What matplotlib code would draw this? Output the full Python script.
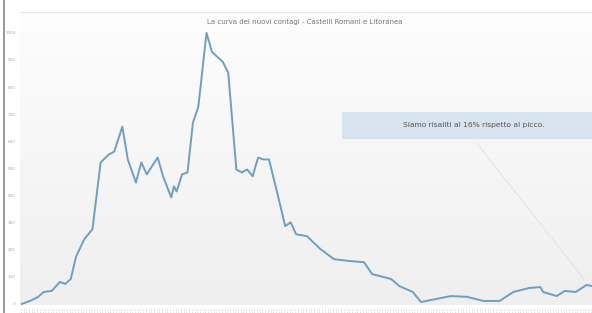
import matplotlib.pyplot as plt
import matplotlib.patches as patches
import pandas as pd
import numpy as np

# giorni dall'inizio della serie e nuovi contagi
giorni = [0, 3, 6, 8, 11, 14, 16, 18, 20, 23, 26, 29, 32, 34, 37, 39, 42, 44, 46, 50,
          52, 55, 56, 57, 59, 61, 63, 65, 68, 70, 74, 76, 79, 81, 83, 85, 87, 89, 91, 94,
          97, 99, 101, 105, 110, 115, 121, 126, 129, 136, 139, 144, 147, 151, 158, 164, 170, 176, 181, 187,
          191, 192, 197, 200, 204, 208, 210]
contagi = [0, 11, 26, 44, 48, 81, 74, 92, 176, 239, 276, 522, 551, 562, 654, 533, 448, 522, 478, 540,
           471, 393, 434, 415, 478, 485, 669, 728, 1000, 930, 893, 853, 496, 485, 496, 471, 540, 533, 533, 412,
           287, 301, 257, 250, 202, 165, 158, 154, 110, 92, 66, 44, 7, 15, 29, 26, 11, 11, 44, 59,
           62, 44, 29, 48, 44, 70, 66]

y_ticks = [0, 100, 200, 300, 400, 500, 600, 700, 800, 900, 1000]
date_labels = pd.date_range('2020-09-01', periods=211, freq='D').strftime('%d/%m')

titolo = "La curva dei nuovi contagi - Castelli Romani e Litoranea"
nota = "Siamo risaliti al 16% rispetto al picco."

fig = plt.figure(figsize=(5.92, 3.13), dpi=100)
ax = fig.add_axes([20 / 592, 8 / 313, 572 / 592, 293 / 313])

# sfondo sfumato
grad = np.linspace(0, 1, 256).reshape(-1, 1)
ax.imshow(grad, extent=[0, 1, 0, 1], transform=ax.transAxes, aspect='auto',
          cmap=plt.matplotlib.colors.LinearSegmentedColormap.from_list('g', ['#fdfdfd', '#efefef']),
          zorder=0)

ax.plot(giorni, contagi, color='#6f9fc0', linewidth=1.4, zorder=3)

ax.set_xlim(-0.7, 210)
ax.set_ylim(-4, 1077)
ax.set_yticks(y_ticks)
ax.set_yticklabels([str(v) for v in y_ticks], fontsize=3, color='#aaaaaa')
ax.set_xticks(range(len(date_labels)))
ax.set_xticklabels(date_labels, fontsize=1.6, rotation=90, color='#bbbbbb')
ax.tick_params(axis='x', length=0, pad=1)
ax.tick_params(axis='y', length=0, pad=3)
for s in ax.spines.values():
    s.set_visible(False)
ax.spines['top'].set_visible(True)
ax.spines['top'].set_color('#e4e4e4')
ax.spines['top'].set_linewidth(0.6)

ax.text(0.497, 0.965, titolo, transform=ax.transAxes, ha='center', va='center',
        fontsize=5, color='#777777')

# riquadro con la nota
ax.add_patch(patches.Rectangle((0.563, 0.568), 0.437, 0.092, transform=ax.transAxes,
                               facecolor='#d8e3f0', edgecolor='none', zorder=2))
ax.text(0.794, 0.614, nota, transform=ax.transAxes, ha='center', va='center',
        fontsize=5.4, color='#555555', zorder=4)
ax.annotate('', xy=(giorni[-2], contagi[-2] + 10), xytext=(167, 600),
            arrowprops=dict(arrowstyle='-', color='#dddddd', lw=0.5), zorder=1)

# bordo sinistro dello screenshot
fig.add_artist(plt.Line2D([4 / 592, 4 / 592], [0, 1], color='#888888', lw=1.2))

plt.savefig('out.png', dpi=100)
